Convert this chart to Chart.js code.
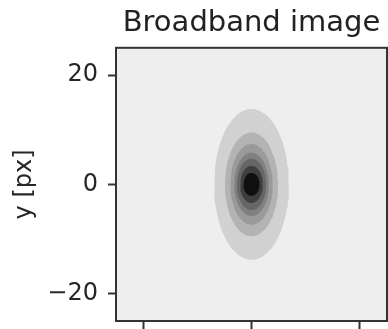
<!DOCTYPE html>
<html>
<head>
<meta charset="utf-8">
<script src="https://cdn.jsdelivr.net/npm/chart.js@4"></script>
<style>
  html, body { margin: 0; padding: 0; background: #fff; }
  canvas { display: block; }
</style>
</head>
<body>
<canvas id="psf" width="388" height="329"></canvas>
<script>
// contour bands of the broadband PSF, outermost first (semi-axes in px)
const BAND_SEMI_X = [6.9, 4.9, 3.9, 3.2, 2.7, 2.1, 1.5];
const BAND_SEMI_Y = [13.8, 9.5, 7.4, 5.8, 4.7, 3.4, 2.1];
const BAND_SHADE = ['#d1d1d1', '#b3b3b3', '#9a9a9a', '#818181', '#666666', '#3e3e3e', '#101010'];

const X_TICKS = [-20, 0, 20];
const Y_TICKS = [-20, 0, 20];
const AXIS_MIN = -25, AXIS_MAX = 25;

const INK = '#333';
const FONT = 'DejaVu Sans';

// closed outline of one band
function contorno(ax, ay) {
  const pts = [];
  const n = 120;
  for (let i = 0; i <= n; i++) {
    const t = (i / n) * Math.PI * 2;
    pts.push({ x: ax * Math.cos(t), y: ay * Math.sin(t) });
  }
  return pts;
}

const datasets = BAND_SEMI_X.map((ax, i) => ({
  data: contorno(ax, BAND_SEMI_Y[i]),
  backgroundColor: BAND_SHADE[i],
  borderWidth: 0,
  pointRadius: 0,
  tension: 0,
  fill: 'shape',
  order: BAND_SEMI_X.length - i
}));

// gray panel behind the contours + frame around it
const painel = {
  id: 'painel',
  beforeDatasetsDraw(chart) {
    const { ctx, chartArea: a } = chart;
    ctx.save();
    ctx.fillStyle = '#eeeeee';
    ctx.fillRect(a.left, a.top, a.right - a.left, a.bottom - a.top);
    ctx.restore();
  },
  afterDraw(chart) {
    const { ctx, chartArea: a } = chart;
    ctx.save();
    ctx.strokeStyle = INK;
    ctx.lineWidth = 2;
    ctx.strokeRect(a.left, a.top, a.right - a.left, a.bottom - a.top);
    ctx.restore();
  }
};

const fixar = list => scale => { scale.ticks = list.map(v => ({ value: v })); };

new Chart(document.getElementById('psf'), {
  type: 'line',
  data: { datasets },
  plugins: [painel],
  options: {
    responsive: false,
    animation: false,
    devicePixelRatio: 1,
    layout: { padding: { top: 0, right: 1, bottom: 0, left: 0 } },
    plugins: {
      legend: { display: false },
      tooltip: { enabled: false },
      title: {
        display: true,
        fullSize: false,
        text: 'Broadband image',
        color: '#222',
        font: { family: FONT, size: 29, weight: 'normal' },
        padding: { top: 6, bottom: 7 }
      }
    },
    scales: {
      x: {
        type: 'linear',
        min: AXIS_MIN,
        max: AXIS_MAX,
        afterBuildTicks: fixar(X_TICKS),
        afterFit: s => { s.height = 8; s.paddingLeft = 0; s.paddingRight = 0; },
        ticks: { display: false },
        grid: { drawOnChartArea: false, drawTicks: true, tickLength: 8, tickColor: INK, tickWidth: 2 },
        border: { display: true, color: INK, width: 2 }
      },
      y: {
        type: 'linear',
        min: AXIS_MIN,
        max: AXIS_MAX,
        afterBuildTicks: fixar(Y_TICKS),
        afterFit: s => { s.width = 116; s.paddingTop = 0; s.paddingBottom = 0; },
        ticks: {
          color: '#262626',
          padding: 10,
          font: { family: FONT, size: 24 },
          callback: v => String(v).replace('-', '\u2212')
        },
        grid: { drawOnChartArea: false, drawTicks: true, tickLength: 8, tickColor: INK, tickWidth: 2 },
        border: { display: true, color: INK, width: 2 },
        title: {
          display: true,
          text: 'y [px]',
          color: '#262626',
          font: { family: FONT, size: 24 },
          padding: { top: 10, bottom: 0 }
        }
      }
    }
  }
});
</script>
</body>
</html>
